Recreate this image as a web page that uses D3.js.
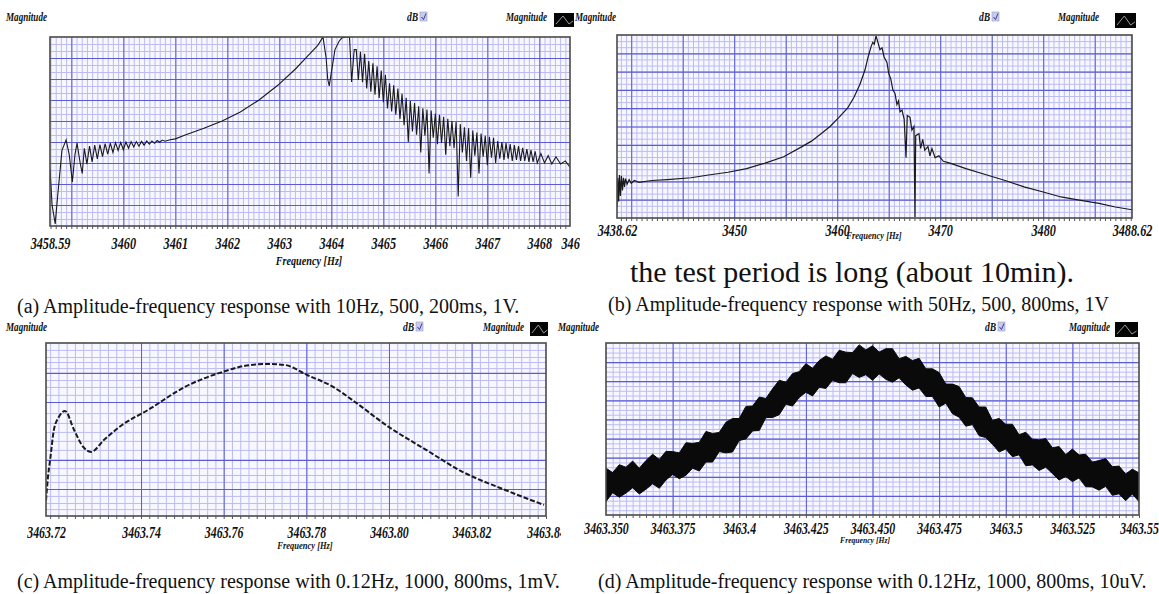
<!DOCTYPE html>
<html>
<head>
<meta charset="utf-8">
<script src="https://cdn.jsdelivr.net/npm/d3@7"></script>
<style>
  body { margin: 0; background: #fff; }
  svg { display: block; }
  .cap { font-family: "Liberation Serif", "Times New Roman", serif; fill: #111; }
  .lbl { font-family: "Liberation Serif", serif; font-weight: bold; font-style: italic; fill: #111; }
</style>
</head>
<body>
<svg id="chart" width="1159" height="594"></svg>
<script>
// ---- data (magnitude in grid divisions) ----

// (a) 10Hz sweep, [frequency Hz, magnitude div]
var respA = [
  [3458.59,2.7],[3458.63,1.0],[3458.69,0.1],[3458.74,1.5],[3458.82,3.6],[3458.90,4.1],[3458.96,3.4],
  [3459.02,2.1],[3459.07,3.4],[3459.11,3.95],[3459.17,3.0],[3459.21,2.5],[3459.25,3.7],[3459.30,2.95],
  [3459.35,3.8],[3459.40,3.05],[3459.45,3.85],[3459.50,3.2],[3459.55,3.88],[3459.60,3.3],[3459.65,3.92],
  [3459.70,3.42],[3459.75,3.95],[3459.80,3.5],[3459.85,3.97],[3459.90,3.6],[3459.95,3.98],[3460.00,3.63],
  [3460.05,4.0],[3460.10,3.7],[3460.15,4.02],[3460.20,3.76],[3460.25,4.02],[3460.30,3.8],[3460.35,4.03],
  [3460.40,3.85],[3460.45,4.05],[3460.50,3.9],[3460.55,4.05],[3460.60,3.94],[3460.65,4.07],[3460.70,3.99],
  [3460.75,4.09],[3460.80,4.04],[3460.90,4.11],[3461.00,4.15],
  [3461.19,4.33],[3461.55,4.65],[3461.90,5.0],[3462.25,5.43],[3462.61,6.0],[3462.97,6.7],[3463.32,7.5],
  [3463.53,8.05],[3463.74,8.6],[3463.84,9.0],
  [3463.90,8.0],[3463.93,7.0],[3463.96,6.67],[3464.00,7.3],[3464.07,8.4],[3464.15,8.8],[3464.20,8.95],
  [3464.28,9.0],[3464.35,9.0],[3464.37,8.0],[3464.39,6.86],[3464.44,8.4],
  [3464.48,8.4],[3464.52,6.95],[3464.56,8.3],[3464.60,6.85],[3464.64,8.2],[3464.68,6.55],[3464.72,7.85],
  [3464.76,6.4],[3464.80,7.75],[3464.84,6.25],[3464.88,7.6],[3464.92,6.1],[3464.96,7.4],[3465.00,5.9],
  [3465.04,7.2],[3465.08,5.6],[3465.12,6.8],[3465.16,5.45],[3465.20,6.7],[3465.24,5.3],[3465.28,6.55],
  [3465.32,5.1],[3465.36,6.3],[3465.40,4.8],[3465.44,6.1],[3465.48,4.0],[3465.52,5.95],[3465.56,4.5],
  [3465.60,5.85],[3465.64,4.35],[3465.68,5.7],[3465.72,3.5],[3465.76,5.6],[3465.80,4.3],[3465.84,5.55],
  [3465.88,2.5],[3465.92,5.5],[3465.96,4.2],[3466.00,5.35],[3466.04,3.9],[3466.08,5.3],[3466.12,3.95],
  [3466.16,5.2],[3466.20,3.4],[3466.24,5.1],[3466.28,3.8],[3466.32,5.0],[3466.36,3.7],[3466.40,4.95],
  [3466.44,1.4],[3466.48,4.85],[3466.52,3.5],[3466.56,4.7],[3466.60,3.1],[3466.64,4.65],[3466.68,2.3],
  [3466.72,4.55],[3466.76,3.35],[3466.80,4.45],[3466.84,2.5],[3466.88,4.4],[3466.92,3.3],[3466.96,4.3],
  [3467.00,2.9],[3467.04,4.25],[3467.08,3.25],[3467.12,4.2],[3467.16,3.0],[3467.20,4.05],[3467.24,3.2],
  [3467.28,4.0],[3467.32,3.15],[3467.36,3.95],[3467.40,3.2],[3467.44,3.9],[3467.48,3.1],[3467.52,3.85],
  [3467.56,3.15],[3467.60,3.8],[3467.64,3.1],[3467.68,3.72],[3467.72,3.1],[3467.76,3.66],[3467.80,3.05],
  [3467.84,3.62],[3467.88,3.05],[3467.92,3.56],[3467.96,3.0],[3468.03,3.45],[3468.10,3.0],[3468.17,3.35],
  [3468.24,2.95],[3468.32,3.3],[3468.41,2.95],[3468.50,3.1],[3468.59,2.8]
];

// (b) 50Hz sweep
var respB = [
  [3438.62,0.6],[3438.70,2.2],[3438.78,0.9],[3438.86,2.35],[3438.95,1.2],[3439.05,2.3],[3439.15,1.5],
  [3439.25,2.2],[3439.35,1.7],[3439.45,2.15],[3439.60,1.85],[3439.80,2.1],[3440.00,1.9],[3440.30,2.05],
  [3440.76,1.95],[3442.00,2.05],[3443.50,2.1],[3445.80,2.2],[3447.50,2.35],[3449.40,2.5],[3451.20,2.7],
  [3453.00,3.0],[3454.80,3.35],[3456.58,3.9],[3457.50,4.2],[3458.43,4.6],[3459.30,5.0],[3460.17,5.5],
  [3461.00,6.0],[3461.63,6.6],[3462.20,7.3],[3462.70,8.1],[3463.00,8.8],[3463.28,9.35],[3463.45,9.6],
  [3463.60,9.5],[3463.77,9.95],[3463.95,9.6],[3464.15,9.2],[3464.35,9.3],[3464.55,8.8],[3464.83,8.5],
  [3465.00,7.9],[3465.20,7.6],[3465.40,7.0],[3465.61,6.8],[3465.80,6.2],[3465.95,6.4],[3466.10,5.8],
  [3466.29,5.9],[3466.50,5.4],[3466.68,3.3],[3466.80,5.6],[3467.07,5.5],[3467.25,4.8],[3467.45,5.0],
  [3467.55,0.05],[3467.62,4.5],[3467.94,4.6],[3468.10,3.8],[3468.30,4.3],[3468.50,3.7],[3468.81,3.9],
  [3469.00,3.4],[3469.20,3.8],[3469.50,3.3],[3469.88,3.4],[3470.30,3.1],[3470.95,3.0],[3472.50,2.7],
  [3474.54,2.35],[3476.30,2.05],[3478.14,1.7],[3480.00,1.42],[3481.73,1.15],[3483.50,0.98],[3485.42,0.8],
  [3487.00,0.6],[3488.62,0.45]
];

// (c) 0.12Hz sweep, 1mV
var respC = [
  [3463.7170,0.9],[3463.7172,1.5],[3463.7175,2.3],[3463.7180,3.24],[3463.7189,4.97],[3463.7201,5.72],
  [3463.7216,6.07],[3463.7238,4.97],[3463.7260,3.99],[3463.7279,3.7],[3463.7310,4.39],[3463.7354,5.26],
  [3463.7417,6.13],[3463.7506,7.46],[3463.7596,8.32],[3463.7649,8.67],[3463.7705,8.79],[3463.7748,8.73],
  [3463.7802,8.15],[3463.7865,7.46],[3463.7911,6.71],[3463.8000,5.14],[3463.8090,3.82],[3463.8179,2.54],
  [3463.8269,1.62],[3463.8375,0.64]
];

// (d) 0.12Hz sweep, 10uV : noisy band, upper and lower edge
var dFreq = [
  3463.3500,3463.3525,3463.3550,3463.3575,3463.3600,3463.3625,3463.3650,3463.3675,3463.3700,3463.3725,
  3463.3750,3463.3775,3463.3800,3463.3825,3463.3850,3463.3875,3463.3900,3463.3925,3463.3950,3463.3975,
  3463.4000,3463.4025,3463.4050,3463.4075,3463.4100,3463.4125,3463.4150,3463.4175,3463.4200,3463.4225,
  3463.4250,3463.4275,3463.4300,3463.4325,3463.4350,3463.4375,3463.4400,3463.4425,3463.4450,3463.4475,
  3463.4500,3463.4525,3463.4550,3463.4575,3463.4600,3463.4625,3463.4650,3463.4675,3463.4700,3463.4725,
  3463.4750,3463.4775,3463.4800,3463.4825,3463.4850,3463.4875,3463.4900,3463.4925,3463.4950,3463.4975,
  3463.5000,3463.5025,3463.5050,3463.5075,3463.5100,3463.5125,3463.5150,3463.5175,3463.5200,3463.5225,
  3463.5250,3463.5275,3463.5300,3463.5325,3463.5350,3463.5375,3463.5400,3463.5425,3463.5450,3463.5475,
  3463.5500
];
var dUpper = [
  2.45,2.22,2.63,2.5,2.82,2.45,2.85,3.18,2.9,3.33,3.32,3.25,3.78,3.75,3.8,4.37,4.27,4.32,4.85,5.05,
  5.05,5.68,5.7,6.17,6.1,6.6,7.05,6.95,7.4,7.5,7.92,7.68,8.08,8.32,8.15,8.62,8.52,8.5,8.9,8.64,
  8.85,8.53,8.7,8.7,8.18,8.3,8.08,8.2,7.65,7.65,7.45,6.85,6.85,6.72,6.15,6.13,5.65,5.65,4.95,5.05,
  4.75,4.75,4.2,4.33,3.97,3.93,4.0,3.52,3.58,3.16,3.45,3.14,3.18,2.77,2.85,2.95,2.53,2.56,2.15,2.4,
  2.2
];
var dLower = [
  0.7,1.17,0.93,1.15,1.42,1.1,1.35,1.63,1.4,1.83,2.12,1.9,2.08,2.45,2.3,2.77,2.77,3.32,3.25,3.3,
  3.9,3.98,4.4,4.42,5.1,5.1,5.25,5.8,5.7,6.15,6.42,6.23,6.68,6.62,7.05,6.92,6.92,7.4,7.2,7.34,
  7.05,7.38,7.1,6.95,7.18,6.8,6.53,6.65,6.2,6.2,5.65,5.85,5.3,5.12,4.65,4.73,4.15,4.05,3.7,3.3,
  3.45,3.05,3.15,2.58,2.62,2.33,2.5,2.17,1.83,2.01,1.75,1.94,1.48,1.47,1.3,1.5,1.03,1.11,0.75,1.1,
  0.7
];

// tick labels
var aTicks = [3458.59, 3460, 3461, 3462, 3463, 3464, 3465, 3466, 3467, 3468, 3468.59];
var aTickText = ['3458.59','3460','3461','3462','3463','3464','3465','3466','3467','3468','3468.59'];
var bTicks = [3438.62, 3450, 3460, 3470, 3480, 3488.62];
var bTickText = ['3438.62','3450','3460','3470','3480','3488.62'];
var cTicks = [3463.717, 3463.74, 3463.76, 3463.78, 3463.80, 3463.82, 3463.838];
var cTickText = ['3463.72','3463.74','3463.76','3463.78','3463.80','3463.82','3463.84'];
var dTicks = [3463.35, 3463.375, 3463.4, 3463.425, 3463.45, 3463.475, 3463.5, 3463.525, 3463.55];
var dTickText = ['3463.350','3463.375','3463.4','3463.425','3463.450','3463.475','3463.5','3463.525','3463.55'];

// horizontal grid of (c) is uneven (dB-like spacing)
var cHMajor = [8.27, 6.59, 3.24, 1.56];
var cHMinor = [9.6, 9.19, 8.9, 8.55, 7.86, 7.46, 7.0, 5.95, 5.38, 4.86, 4.34, 3.82, 2.77, 2.37, 1.97, 1.16, 0.75, 0.4];

var captions = [
  { x: 17,  y: 313, text: '(a) Amplitude-frequency response with 10Hz, 500, 200ms, 1V.' },
  { x: 608, y: 311, text: '(b) Amplitude-frequency response with 50Hz, 500, 800ms, 1V' },
  { x: 17,  y: 588, text: '(c) Amplitude-frequency response with 0.12Hz, 1000, 800ms, 1mV.' },
  { x: 598, y: 588, text: '(d) Amplitude-frequency response with 0.12Hz, 1000, 800ms, 10uV.' }
];

var svg = d3.select('#chart');
var defs = svg.append('defs');

var MINOR = '#bcbcf2';
var MAJOR = '#5b5bd6';

/**
 * drawPanel - one screenshot of the analyser window
 */
function drawPanel(p) {
  defs.append('clipPath').attr('id', 'crop-' + p.id)
    .append('rect').attr('x', p.crop[0]).attr('y', p.crop[1])
    .attr('width', p.crop[2]).attr('height', p.crop[3]);
  defs.append('clipPath').attr('id', 'box-' + p.id)
    .append('rect').attr('x', p.left).attr('y', p.top)
    .attr('width', p.right - p.left).attr('height', p.bottom - p.top);

  var g = svg.append('g').attr('clip-path', 'url(#crop-' + p.id + ')');
  var w = p.right - p.left;
  var h = p.bottom - p.top;

  var x = d3.scaleLinear().domain(p.xDomain).range([p.left, p.right]);
  var y = d3.scaleLinear().domain(p.yDomain).range([p.bottom, p.top]);

  g.append('rect')
    .attr('x', p.left).attr('y', p.top).attr('width', w).attr('height', h)
    .attr('fill', '#f7f7ff');

  var grid = g.append('g').attr('clip-path', 'url(#box-' + p.id + ')');

  function vGrid(vals, color, width) {
    grid.append('g')
      .attr('transform', 'translate(0,' + p.bottom + ')')
      .call(d3.axisBottom(x).tickValues(vals).tickSize(-h).tickFormat(''))
      .call(function(s) {
        s.select('.domain').remove();
        s.selectAll('line').attr('stroke', color).attr('stroke-width', width);
      });
  }
  function hGrid(vals, color, width) {
    grid.append('g')
      .attr('transform', 'translate(' + p.left + ',0)')
      .call(d3.axisLeft(y).tickValues(vals).tickSize(-w).tickFormat(''))
      .call(function(s) {
        s.select('.domain').remove();
        s.selectAll('line').attr('stroke', color).attr('stroke-width', width);
      });
  }

  vGrid(p.xMinor, MINOR, 1);
  hGrid(p.yMinor, MINOR, 1);
  vGrid(p.xMajor, MAJOR, 1);
  hGrid(p.yMajor, MAJOR, 1.2);

  // response trace
  var plot = g.append('g').attr('clip-path', 'url(#box-' + p.id + ')');
  if (p.band) {
    var area = d3.area()
      .x(function(d) { return x(d[0]); })
      .y0(function(d) { return y(d[1]); })
      .y1(function(d) { return y(d[2]); });
    plot.append('path')
      .datum(p.band)
      .attr('d', area)
      .attr('fill', '#0a0a0a')
      .attr('stroke', '#0a0a0a')
      .attr('stroke-width', 1);
  } else {
    var line = d3.line()
      .x(function(d) { return x(d[0]); })
      .y(function(d) { return y(d[1]); })
      .curve(p.curve || d3.curveLinear);
    plot.append('path')
      .datum(p.data)
      .attr('d', line)
      .attr('fill', 'none')
      .attr('stroke', '#1a1a1a')
      .attr('stroke-width', p.lineWidth)
      .attr('stroke-dasharray', p.dash || null);
  }

  // frame
  g.append('rect')
    .attr('x', p.left).attr('y', p.top).attr('width', w).attr('height', h)
    .attr('fill', 'none').attr('stroke', '#4a4a4a').attr('stroke-width', 1.6);

  // small dotted tick row under the frame
  g.append('g')
    .attr('transform', 'translate(0,' + p.bottom + ')')
    .call(d3.axisBottom(x).tickValues(p.xMinor).tickSize(3).tickFormat(''))
    .call(function(s) {
      s.select('.domain').remove();
      s.selectAll('line').attr('stroke', '#555');
    });

  // tick labels
  g.append('g')
    .attr('transform', 'translate(0,' + p.labelY + ')')
    .call(d3.axisBottom(x).tickValues(p.ticks).tickSize(0).tickPadding(0)
      .tickFormat(function(d, i) { return p.tickText[i]; }))
    .call(function(s) {
      s.select('.domain').remove();
      var t = s.selectAll('text')
        .attr('class', 'lbl')
        .attr('y', 0).attr('dy', '0.35em')
        .attr('font-size', p.labelSize)
        .attr('transform', 'scale(' + p.labelScale + ',1)');
      if (p.endStart !== undefined) {
        t.filter(function(d, i) { return i === p.ticks.length - 1; })
          .attr('text-anchor', 'start')
          .attr('x', p.endStart / p.labelScale);
      }
    });

  g.append('text')
    .attr('class', 'lbl')
    .attr('transform', 'translate(' + p.titleX + ',' + p.titleY + ') scale(0.85,1)')
    .attr('text-anchor', 'middle')
    .attr('dy', '0.35em')
    .attr('font-size', p.titleSize)
    .text('Frequency [Hz]');
}

drawPanel({
  id: 'a', crop: [0, 0, 580, 290],
  left: 50, right: 570, top: 37, bottom: 226,
  xDomain: [3458.59, 3468.59], yDomain: [0, 9],
  xMinor: d3.range(3458.6, 3468.59, 0.1), xMajor: d3.range(3459, 3469, 1),
  yMinor: d3.range(0, 9, 1 / 3), yMajor: d3.range(1, 9, 1),
  data: respA, lineWidth: 1.1,
  ticks: aTicks, tickText: aTickText, labelY: 243, labelSize: 17, labelScale: 0.72, endStart: -9,
  titleX: 309, titleY: 261, titleSize: 12
});

drawPanel({
  id: 'b', crop: [580, 0, 579, 290],
  left: 617, right: 1132, top: 35, bottom: 218,
  xDomain: [3438.62, 3488.62], yDomain: [0, 10],
  xMinor: d3.range(3439, 3488.62, 0.5), xMajor: d3.range(3440, 3488, 5),
  yMinor: d3.range(0, 10, 1 / 3), yMajor: d3.range(1, 10, 1),
  data: respB, lineWidth: 1.2,
  ticks: bTicks, tickText: bTickText, labelY: 230, labelSize: 17, labelScale: 0.72,
  titleX: 874, titleY: 235, titleSize: 10
});

drawPanel({
  id: 'c', crop: [0, 318, 561, 240],
  left: 46, right: 546, top: 343, bottom: 516,
  xDomain: [3463.717, 3463.838], yDomain: [0, 10],
  xMinor: d3.range(3463.718, 3463.838, 0.002), xMajor: [3463.74, 3463.76, 3463.78, 3463.80, 3463.82],
  yMinor: cHMinor, yMajor: cHMajor,
  data: respC, lineWidth: 2, dash: '5,2', curve: d3.curveMonotoneX,
  ticks: cTicks, tickText: cTickText, labelY: 532, labelSize: 17, labelScale: 0.7,
  titleX: 305, titleY: 545, titleSize: 10
});

var dBand = dFreq.map(function(f, i) { return [f, dLower[i], dUpper[i]]; });

drawPanel({
  id: 'd', crop: [580, 318, 579, 240],
  left: 606, right: 1139, top: 343, bottom: 515,
  xDomain: [3463.35, 3463.55], yDomain: [0, 9],
  xMinor: d3.range(3463.3525, 3463.55, 0.0025), xMajor: d3.range(3463.375, 3463.55, 0.025),
  yMinor: d3.range(0, 9, 0.25), yMajor: d3.range(1, 9, 1),
  band: dBand,
  ticks: dTicks, tickText: dTickText, labelY: 528, labelSize: 17, labelScale: 0.7,
  titleX: 865, titleY: 540, titleSize: 9
});

// window header bits: "Magnitude", "dB" check box, legend swatch
var headers = [
  { kind: 'text', x: 6, y: 21, t: 'Magnitude' },
  { kind: 'db', x: 407, y: 21 },
  { kind: 'text', x: 506, y: 21, t: 'Magnitude' },
  { kind: 'swatch', x: 554, y: 13, w: 20, h: 14 },
  { kind: 'text', x: 575, y: 21, t: 'Magnitude' },
  { kind: 'db', x: 979, y: 21 },
  { kind: 'text', x: 1058, y: 21, t: 'Magnitude' },
  { kind: 'swatch', x: 1115, y: 13, w: 21, h: 15 },
  { kind: 'text', x: 6, y: 331, t: 'Magnitude' },
  { kind: 'db', x: 403, y: 331 },
  { kind: 'text', x: 483, y: 331, t: 'Magnitude' },
  { kind: 'swatch', x: 530, y: 322, w: 18, h: 14 },
  { kind: 'text', x: 558, y: 331, t: 'Magnitude' },
  { kind: 'db', x: 985, y: 331 },
  { kind: 'text', x: 1069, y: 331, t: 'Magnitude' },
  { kind: 'swatch', x: 1115, y: 322, w: 23, h: 15 }
];

headers.forEach(function(o) {
  if (o.kind === 'text') {
    svg.append('text').attr('class', 'lbl')
      .attr('transform', 'translate(' + o.x + ',' + o.y + ') scale(0.76,1)')
      .attr('font-size', 12).text(o.t);
  } else if (o.kind === 'db') {
    svg.append('text').attr('class', 'lbl')
      .attr('transform', 'translate(' + o.x + ',' + o.y + ') scale(0.8,1)')
      .attr('font-size', 12).text('dB');
    svg.append('rect').attr('x', o.x + 13).attr('y', o.y - 9).attr('width', 7).attr('height', 9)
      .attr('fill', '#c9cbe8').attr('stroke', '#9a9cc8').attr('stroke-width', 0.6);
    svg.append('path').attr('d', 'M' + (o.x + 14.5) + ',' + (o.y - 4) + 'l2,2.5l2.5,-6')
      .attr('fill', 'none').attr('stroke', '#3b3f9a').attr('stroke-width', 1);
  } else {
    svg.append('rect').attr('x', o.x).attr('y', o.y).attr('width', o.w).attr('height', o.h)
      .attr('fill', '#050505');
    svg.append('path')
      .attr('d', 'M' + (o.x + 2) + ',' + (o.y + o.h - 3) + 'l' + (o.w * 0.35) + ',' + (-(o.h - 6)) +
        'l' + (o.w * 0.3) + ',' + (o.h - 6) + 'l' + (o.w * 0.2) + ',-3')
      .attr('fill', 'none').attr('stroke', '#9a9a9a').attr('stroke-width', 1);
  }
});

svg.append('text').attr('class', 'cap')
  .attr('x', 630).attr('y', 282).attr('font-size', 30)
  .text('the test period is long (about 10min).');

svg.selectAll('text.capline')
  .data(captions)
  .enter().append('text')
  .attr('class', 'cap capline')
  .attr('x', function(d) { return d.x; })
  .attr('y', function(d) { return d.y; })
  .attr('font-size', 20)
  .text(function(d) { return d.text; });
</script>
</body>
</html>
